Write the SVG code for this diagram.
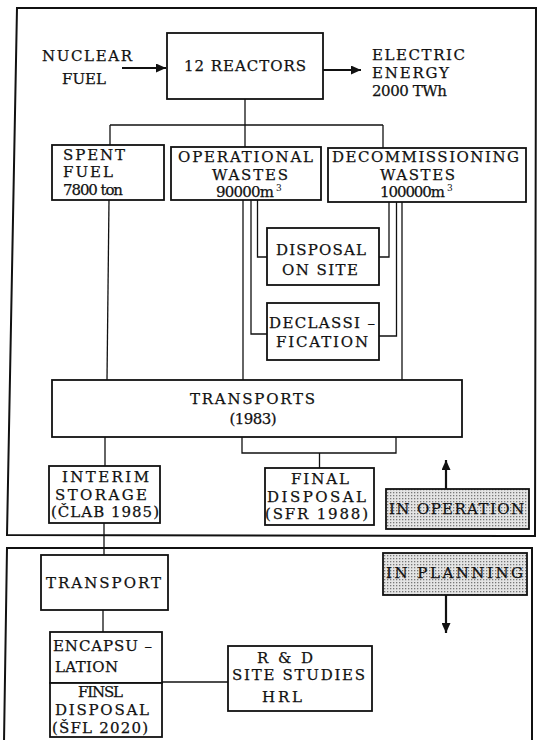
<svg xmlns="http://www.w3.org/2000/svg" width="537" height="740" viewBox="0 0 537 740">
<style>
.bx{fill:#fff;stroke:#111;stroke-width:1.8}
.sh{fill:url(#dots);stroke:#111;stroke-width:1.8}
.fr{fill:none;stroke:#111;stroke-width:2}
.cn{fill:none;stroke:#111;stroke-width:1.3}
.ar{fill:none;stroke:#111;stroke-width:2.2}
text{font-family:"DejaVu Serif","Liberation Serif",serif;font-size:15px;fill:#111;stroke:#111;stroke-width:0.25}
.sup{font-size:9px;stroke-width:0}
</style>
<defs>
<pattern id="dots" width="3" height="3" patternUnits="userSpaceOnUse">
<rect width="3" height="3" fill="#e4e4e4"/>
<rect width="1.3" height="1.3" fill="#777"/>
</pattern>
<marker id="ah" markerUnits="userSpaceOnUse" markerWidth="10" markerHeight="9" refX="10" refY="4.5" orient="auto">
<path d="M0,0 L10,4.5 L0,9 z" fill="#111"/>
</marker>
</defs>

<g id="frames">
<path class="fr" d="M17,8 L536,8 L535,536 L7,535 Z"/>
<path class="fr" d="M4,742 L7,548 L532,548 L532,742"/>
</g>

<g id="connectors">
<path class="ar" d="M122,68 H166" marker-end="url(#ah)"/>
<path class="ar" d="M323,70 H361" marker-end="url(#ah)"/>
<path class="ar" d="M446,489 V460" marker-end="url(#ah)"/>
<path class="ar" d="M446,595 V633" marker-end="url(#ah)"/>
<path class="cn" d="M245,99 V147"/>
<path class="cn" d="M110,125 H383"/>
<path class="cn" d="M110,125 V145"/>
<path class="cn" d="M383,125 V148"/>
<path class="cn" d="M109,200 L107,380"/>
<path class="cn" d="M243,200 V380"/>
<path class="cn" d="M251,200 V334 H267"/>
<path class="cn" d="M257.5,200 V257 H267"/>
<path class="cn" d="M389,202 V257 H379"/>
<path class="cn" d="M396.5,202 V336 H379"/>
<path class="cn" d="M402,202 V380"/>
<path class="cn" d="M105,437 V466"/>
<path class="cn" d="M242,437 V453 H396 V437"/>
<path class="cn" d="M319.5,453 V468"/>
<path class="cn" d="M104,523 V555"/>
<path class="cn" d="M103,610 V632"/>
<path class="cn" d="M162,682 H228"/>
</g>

<g id="nuclear-fuel">
<text x="42" y="61" textLength="90">NUCLEAR</text>
<text x="62" y="84" textLength="44">FUEL</text>
</g>

<g id="reactors">
<rect class="bx" x="167" y="33" width="156" height="66"/>
<text x="184" y="71" textLength="122">12 REACTORS</text>
</g>

<g id="electric-energy">
<text x="372" y="60" textLength="93">ELECTRIC</text>
<text x="372" y="78" textLength="77">ENERGY</text>
<text x="372" y="96" textLength="75">2000 TWh</text>
</g>

<g id="spent-fuel">
<rect class="bx" x="52" y="145" width="112" height="55"/>
<text x="63" y="160" textLength="62">SPENT</text>
<text x="63" y="177" textLength="50">FUEL</text>
<text x="63" y="195" textLength="60">7800 ton</text>
</g>

<g id="operational-wastes">
<rect class="bx" x="171" y="147" width="150" height="53"/>
<text x="178" y="162" textLength="135">OPERATIONAL</text>
<text x="212" y="180" textLength="76">WASTES</text>
<text x="216" y="197" textLength="58">90000m</text>
<text class="sup" x="276" y="191">3</text>
</g>

<g id="decommissioning-wastes">
<rect class="bx" x="328" y="148" width="198" height="54"/>
<text x="332" y="162" textLength="187">DECOMMISSIONING</text>
<text x="380" y="180" textLength="75">WASTES</text>
<text x="380" y="197" textLength="65">100000m</text>
<text class="sup" x="447" y="191">3</text>
</g>

<g id="disposal-on-site">
<rect class="bx" x="267" y="228" width="112" height="57"/>
<text x="276" y="255" textLength="90">DISPOSAL</text>
<text x="282" y="275" textLength="76">ON SITE</text>
</g>

<g id="declassification">
<rect class="bx" x="267" y="303" width="112" height="57"/>
<text x="269" y="328" textLength="106">DECLASSI –</text>
<text x="276" y="347" textLength="92">FICATION</text>
</g>

<g id="transports">
<rect class="bx" x="52" y="380" width="410" height="57"/>
<text x="190" y="404" textLength="125">TRANSPORTS</text>
<text x="229.5" y="424" textLength="47">(1983)</text>
</g>

<g id="interim-storage">
<rect class="bx" x="49" y="466" width="111" height="57"/>
<text x="62" y="482" textLength="87">INTERIM</text>
<text x="55" y="499.5" textLength="92">STORAGE</text>
<text x="51" y="517" textLength="108">(ČLAB 1985)</text>
</g>

<g id="final-disposal-sfr">
<rect class="bx" x="265" y="468" width="109" height="57"/>
<text x="291" y="484" textLength="58">FINAL</text>
<text x="267" y="501.5" textLength="99">DISPOSAL</text>
<text x="265" y="519" textLength="103">(SFR 1988)</text>
</g>

<g id="in-operation">
<rect class="sh" x="386" y="489" width="143" height="40"/>
<text x="389" y="514" textLength="135">IN OPERATION</text>
</g>

<g id="transport">
<rect class="bx" x="41" y="555" width="127" height="55"/>
<text x="46" y="588" textLength="115">TRANSPORT</text>
</g>

<g id="encapsulation">
<rect class="bx" x="50" y="632" width="112" height="51"/>
<text x="53" y="651" textLength="99">ENCAPSU –</text>
<text x="55" y="672" textLength="63">LATION</text>
</g>

<g id="final-disposal-sfl">
<rect class="bx" x="50" y="683" width="112" height="54"/>
<text x="78" y="697" textLength="45">FINSL</text>
<text x="55" y="715" textLength="94">DISPOSAL</text>
<text x="52" y="732.5" textLength="96">(ŠFL 2020)</text>
</g>

<g id="rd-site-studies">
<rect class="bx" x="228" y="646" width="144" height="65"/>
<text x="257" y="663" textLength="56">R &amp; D</text>
<text x="232" y="680" textLength="133">SITE STUDIES</text>
<text x="262" y="702" textLength="40">HRL</text>
</g>

<g id="in-planning">
<rect class="sh" x="383" y="553" width="144" height="42"/>
<text x="386" y="578" textLength="137">IN PLANNING</text>
</g>
</svg>
